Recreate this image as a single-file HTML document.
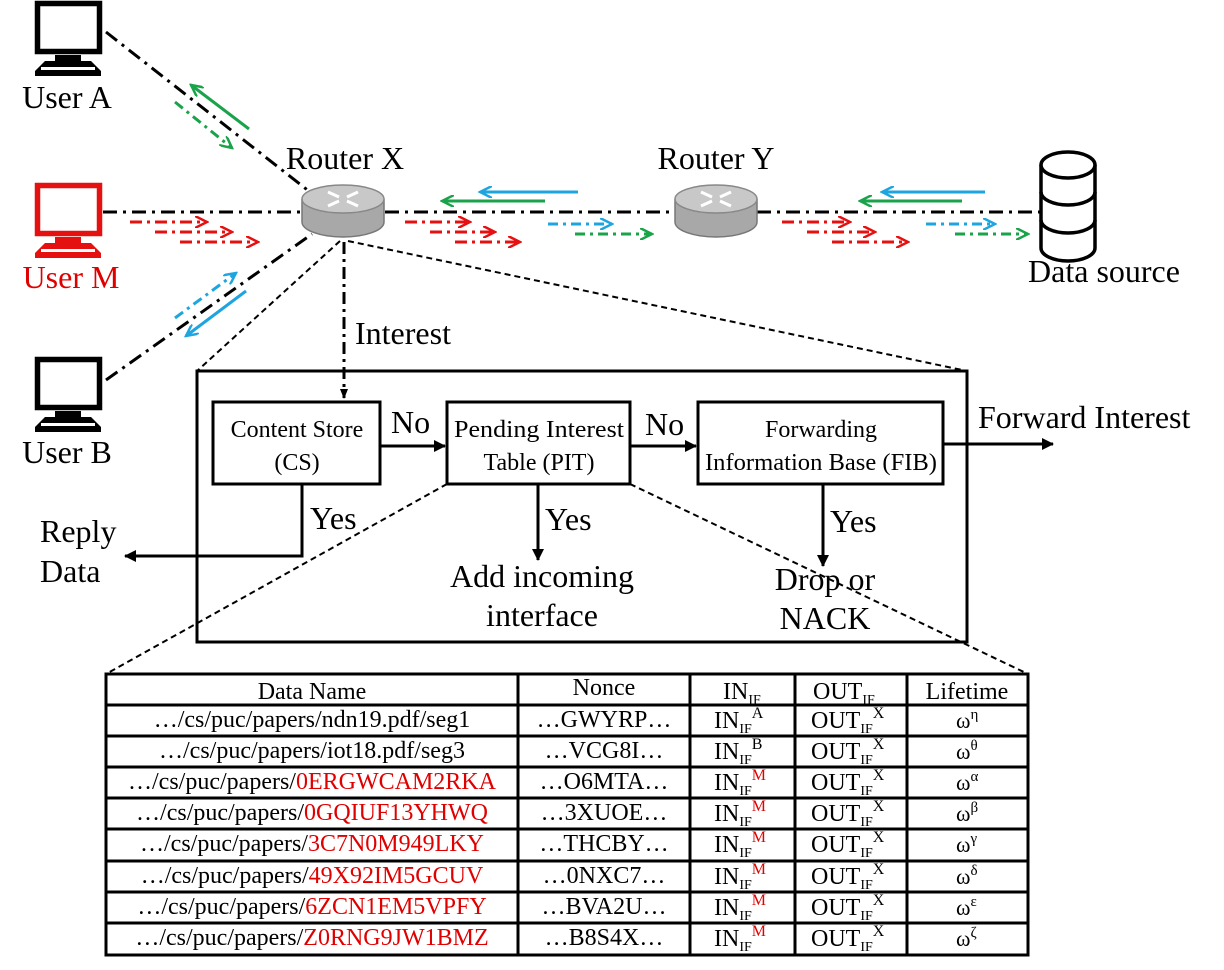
<!DOCTYPE html>
<html><head><meta charset="utf-8"><style>
html,body{margin:0;padding:0;background:#fff}
svg{display:block}
text{font-family:"Liberation Serif",serif;fill:#000}
.r{fill:#e00000}
</style></head><body>
<svg width="1224" height="970" viewBox="0 0 1224 970" xmlns="http://www.w3.org/2000/svg">
<defs>
<marker id="ab" markerWidth="10" markerHeight="10" refX="9" refY="5" orient="auto" markerUnits="userSpaceOnUse"><path d="M0,1 L10,5 L0,9 Z" fill="#000"/></marker>
<marker id="ab2" markerWidth="12" markerHeight="12" refX="11" refY="6" orient="auto" markerUnits="userSpaceOnUse"><path d="M0,0 L12,6 L0,12 Z" fill="#000"/></marker>
<marker id="ag" markerWidth="14" markerHeight="12" refX="12" refY="6" orient="auto" markerUnits="userSpaceOnUse"><path d="M0,0 L12,6 L0,12" fill="none" stroke="#1aa34a" stroke-width="2.5"/></marker>
<marker id="ar" markerWidth="14" markerHeight="12" refX="12" refY="6" orient="auto" markerUnits="userSpaceOnUse"><path d="M0,0 L12,6 L0,12" fill="none" stroke="#e51010" stroke-width="2.5"/></marker>
<marker id="au" markerWidth="14" markerHeight="12" refX="12" refY="6" orient="auto" markerUnits="userSpaceOnUse"><path d="M0,0 L12,6 L0,12" fill="none" stroke="#1ea5e0" stroke-width="2.5"/></marker>
<g id="pc">
<rect x="2.5" y="2.5" width="62" height="48" fill="#fff" stroke="currentColor" stroke-width="5.5"/>
<rect x="20" y="54" width="26" height="6" fill="currentColor"/>
<path d="M10,60 L56,60 L66,70 L66,75 L0,75 L0,70 Z" fill="currentColor"/>
<rect x="6" y="66" width="54" height="3" fill="#fff"/>
</g>
</defs>

<use href="#pc" x="35" y="1" color="#000"/>
<use href="#pc" x="35" y="183" color="#e51010"/>
<use href="#pc" x="35" y="357" color="#000"/>
<text x="67" y="108" font-size="32" text-anchor="middle">User A</text>
<text x="71" y="288" font-size="32" text-anchor="middle" class="r">User M</text>
<text x="67" y="463" font-size="32" text-anchor="middle">User B</text>

<g stroke="#000" stroke-width="3" stroke-dasharray="14,6,3,6" fill="none">
<line x1="106" y1="32" x2="310" y2="192"/>
<line x1="103" y1="212" x2="302" y2="212"/>
<line x1="106" y1="380" x2="312" y2="234"/>
<line x1="385" y1="212" x2="676" y2="212"/>
<line x1="757" y1="212" x2="1062" y2="212"/>
</g>

<g id="rt">
<path d="M302,199 L302,222 A41,15 0 0 0 384,222 L384,199" fill="#a8a8a8" stroke="#777" stroke-width="1.5"/>
<ellipse cx="343" cy="199" rx="41" ry="14" fill="#c8c8c8" stroke="#888" stroke-width="1.5"/>
<g stroke="#fff" stroke-width="3"><line x1="328" y1="192" x2="339" y2="197"/><line x1="358" y1="192" x2="347" y2="197"/><line x1="328" y1="206" x2="339" y2="201"/><line x1="358" y1="206" x2="347" y2="201"/></g>
</g>
<use href="#rt" x="373" y="0"/>
<text x="345" y="169" font-size="32" text-anchor="middle">Router X</text>
<text x="716" y="169" font-size="32" text-anchor="middle">Router Y</text>

<g fill="#fff" stroke="#000" stroke-width="3.5">
<path d="M1041,165 L1041,248 A27,13 0 0 0 1095,248 L1095,165"/>
<ellipse cx="1068" cy="165" rx="27" ry="13"/>
<path d="M1041,192 A27,13 0 0 0 1095,192" fill="none"/>
<path d="M1041,220 A27,13 0 0 0 1095,220" fill="none"/>
</g>
<text x="1104" y="282" font-size="32" text-anchor="middle">Data source</text>

<g stroke-width="3" fill="none">
<line x1="249" y1="129" x2="191" y2="85" stroke="#1aa34a" marker-end="url(#ag)"/>
<line x1="175" y1="102" x2="232" y2="148" stroke="#1aa34a" stroke-dasharray="10,5,3,5" marker-end="url(#ag)"/>
<line x1="130" y1="222" x2="207" y2="222" stroke="#e51010" stroke-dasharray="12,5,3,5" marker-end="url(#ar)"/>
<line x1="155" y1="232" x2="232" y2="232" stroke="#e51010" stroke-dasharray="12,5,3,5" marker-end="url(#ar)"/>
<line x1="180" y1="242" x2="258" y2="242" stroke="#e51010" stroke-dasharray="12,5,3,5" marker-end="url(#ar)"/>
<line x1="175" y1="318" x2="236" y2="273" stroke="#1ea5e0" stroke-dasharray="10,5,3,5" marker-end="url(#au)"/>
<line x1="246" y1="291" x2="186" y2="336" stroke="#1ea5e0" marker-end="url(#au)"/>

<line x1="578" y1="192" x2="480" y2="192" stroke="#1ea5e0" marker-end="url(#au)"/>
<line x1="545" y1="201" x2="442" y2="201" stroke="#1aa34a" marker-end="url(#ag)"/>
<line x1="405" y1="222" x2="470" y2="222" stroke="#e51010" stroke-dasharray="12,5,3,5" marker-end="url(#ar)"/>
<line x1="430" y1="232" x2="495" y2="232" stroke="#e51010" stroke-dasharray="12,5,3,5" marker-end="url(#ar)"/>
<line x1="455" y1="242" x2="520" y2="242" stroke="#e51010" stroke-dasharray="12,5,3,5" marker-end="url(#ar)"/>
<line x1="548" y1="224" x2="612" y2="224" stroke="#1ea5e0" stroke-dasharray="10,5,3,5" marker-end="url(#au)"/>
<line x1="575" y1="234" x2="652" y2="234" stroke="#1aa34a" stroke-dasharray="10,5,3,5" marker-end="url(#ag)"/>

<line x1="985" y1="192" x2="882" y2="192" stroke="#1ea5e0" marker-end="url(#au)"/>
<line x1="962" y1="201" x2="860" y2="201" stroke="#1aa34a" marker-end="url(#ag)"/>
<line x1="782" y1="222" x2="850" y2="222" stroke="#e51010" stroke-dasharray="12,5,3,5" marker-end="url(#ar)"/>
<line x1="807" y1="232" x2="875" y2="232" stroke="#e51010" stroke-dasharray="12,5,3,5" marker-end="url(#ar)"/>
<line x1="832" y1="242" x2="908" y2="242" stroke="#e51010" stroke-dasharray="12,5,3,5" marker-end="url(#ar)"/>
<line x1="926" y1="224" x2="995" y2="224" stroke="#1ea5e0" stroke-dasharray="10,5,3,5" marker-end="url(#au)"/>
<line x1="955" y1="234" x2="1028" y2="234" stroke="#1aa34a" stroke-dasharray="10,5,3,5" marker-end="url(#ag)"/>
</g>

<g stroke="#000" stroke-width="2" stroke-dasharray="6,4" fill="none">
<line x1="340" y1="241" x2="197" y2="371"/>
<line x1="348" y1="241" x2="967" y2="371"/>
<line x1="447" y1="484" x2="106" y2="674"/>
<line x1="630" y1="484" x2="1028" y2="674"/>
</g>
<line x1="344" y1="242" x2="344" y2="398" stroke="#000" stroke-width="3" stroke-dasharray="12,5,3,5" marker-end="url(#ab)"/>
<text x="355" y="344" font-size="32">Interest</text>

<rect x="197" y="371" width="770" height="271" fill="none" stroke="#000" stroke-width="3"/>
<g fill="#fff" stroke="#000" stroke-width="3">
<rect x="213" y="402" width="167" height="82"/>
<rect x="447" y="402" width="183" height="82"/>
<rect x="698" y="402" width="245" height="82"/>
</g>
<g font-size="24" text-anchor="middle">
<text x="297" y="437">Content Store</text><text x="297" y="470">(CS)</text>
<text x="539" y="437" textLength="170" lengthAdjust="spacingAndGlyphs">Pending Interest</text><text x="539" y="470">Table (PIT)</text>
<text x="821" y="437">Forwarding</text><text x="821" y="470" textLength="232" lengthAdjust="spacingAndGlyphs">Information Base (FIB)</text>
</g>
<g stroke="#000" stroke-width="3" fill="none">
<line x1="380" y1="446" x2="445" y2="446" marker-end="url(#ab2)"/>
<line x1="630" y1="446" x2="696" y2="446" marker-end="url(#ab2)"/>
<line x1="943" y1="444" x2="1053" y2="444" marker-end="url(#ab2)"/>
<polyline points="302,484 302,556 125,556" marker-end="url(#ab2)"/>
<line x1="538" y1="484" x2="538" y2="560" marker-end="url(#ab2)"/>
<line x1="823" y1="484" x2="823" y2="566" marker-end="url(#ab2)"/>
</g>
<g font-size="32">
<text x="391" y="433">No</text>
<text x="645" y="435">No</text>
<text x="978" y="428">Forward Interest</text>
<text x="310" y="529">Yes</text>
<text x="545" y="530">Yes</text>
<text x="830" y="532">Yes</text>
<text x="40" y="542">Reply</text>
<text x="40" y="582">Data</text>
<text x="542" y="587" text-anchor="middle">Add incoming</text>
<text x="542" y="626" text-anchor="middle">interface</text>
<text x="825" y="590" text-anchor="middle">Drop or</text>
<text x="825" y="629" text-anchor="middle">NACK</text>
</g>

<g stroke="#000" stroke-width="3" fill="none">
<rect x="106" y="674" width="922" height="281"/>
<line x1="518" y1="674" x2="518" y2="955"/>
<line x1="690" y1="674" x2="690" y2="955"/>
<line x1="795" y1="674" x2="795" y2="955"/>
<line x1="907" y1="674" x2="907" y2="955"/>
<line x1="106" y1="705" x2="1028" y2="705"/>
<line x1="106" y1="736" x2="1028" y2="736"/>
<line x1="106" y1="767" x2="1028" y2="767"/>
<line x1="106" y1="798" x2="1028" y2="798"/>
<line x1="106" y1="829" x2="1028" y2="829"/>
<line x1="106" y1="861" x2="1028" y2="861"/>
<line x1="106" y1="892" x2="1028" y2="892"/>
<line x1="106" y1="923" x2="1028" y2="923"/>
</g>
<g font-size="24" text-anchor="middle">
<text x="312" y="699">Data Name</text>
<text x="604" y="695">Nonce</text>
<text x="312" y="727">…/cs/puc/papers/ndn19.pdf/seg1</text>
<text x="312" y="758">…/cs/puc/papers/iot18.pdf/seg3</text>
<text x="312" y="789">…/cs/puc/papers/<tspan class="r">0ERGWCAM2RKA</tspan></text>
<text x="312" y="820">…/cs/puc/papers/<tspan class="r">0GQIUF13YHWQ</tspan></text>
<text x="312" y="851">…/cs/puc/papers/<tspan class="r">3C7N0M949LKY</tspan></text>
<text x="312" y="883">…/cs/puc/papers/<tspan class="r">49X92IM5GCUV</tspan></text>
<text x="312" y="914">…/cs/puc/papers/<tspan class="r">6ZCN1EM5VPFY</tspan></text>
<text x="312" y="945">…/cs/puc/papers/<tspan class="r">Z0RNG9JW1BMZ</tspan></text>

<text x="604" y="727">…GWYRP…</text>
<text x="604" y="758">…VCG8I…</text>
<text x="604" y="789">…O6MTA…</text>
<text x="604" y="820">…3XUOE…</text>
<text x="604" y="851">…THCBY…</text>
<text x="604" y="883">…0NXC7…</text>
<text x="604" y="914">…BVA2U…</text>
<text x="604" y="945">…B8S4X…</text>
<text x="967" y="699">Lifetime</text>
</g>
<g font-size="24">
<text x="723" y="699">IN<tspan font-size="14" dy="5">IF</tspan></text>
<text x="813" y="699">OUT<tspan font-size="14" dy="5">IF</tspan></text>
<text x="714" y="728">IN<tspan font-size="14" dy="5">IF</tspan><tspan font-size="16" dy="-15">A</tspan></text>
<text x="714" y="759">IN<tspan font-size="14" dy="5">IF</tspan><tspan font-size="16" dy="-15">B</tspan></text>
<text x="714" y="790">IN<tspan font-size="14" dy="5">IF</tspan><tspan font-size="16" dy="-15" class="r">M</tspan></text>
<text x="714" y="821">IN<tspan font-size="14" dy="5">IF</tspan><tspan font-size="16" dy="-15" class="r">M</tspan></text>
<text x="714" y="852">IN<tspan font-size="14" dy="5">IF</tspan><tspan font-size="16" dy="-15" class="r">M</tspan></text>
<text x="714" y="884">IN<tspan font-size="14" dy="5">IF</tspan><tspan font-size="16" dy="-15" class="r">M</tspan></text>
<text x="714" y="915">IN<tspan font-size="14" dy="5">IF</tspan><tspan font-size="16" dy="-15" class="r">M</tspan></text>
<text x="714" y="946">IN<tspan font-size="14" dy="5">IF</tspan><tspan font-size="16" dy="-15" class="r">M</tspan></text>
</g>
<g font-size="24">
<text x="811" y="728">OUT<tspan font-size="14" dy="5">IF</tspan><tspan font-size="16" dy="-15">X</tspan></text>
<text x="811" y="759">OUT<tspan font-size="14" dy="5">IF</tspan><tspan font-size="16" dy="-15">X</tspan></text>
<text x="811" y="790">OUT<tspan font-size="14" dy="5">IF</tspan><tspan font-size="16" dy="-15">X</tspan></text>
<text x="811" y="821">OUT<tspan font-size="14" dy="5">IF</tspan><tspan font-size="16" dy="-15">X</tspan></text>
<text x="811" y="852">OUT<tspan font-size="14" dy="5">IF</tspan><tspan font-size="16" dy="-15">X</tspan></text>
<text x="811" y="884">OUT<tspan font-size="14" dy="5">IF</tspan><tspan font-size="16" dy="-15">X</tspan></text>
<text x="811" y="915">OUT<tspan font-size="14" dy="5">IF</tspan><tspan font-size="16" dy="-15">X</tspan></text>
<text x="811" y="946">OUT<tspan font-size="14" dy="5">IF</tspan><tspan font-size="16" dy="-15">X</tspan></text>
</g>
<g font-size="22">
<text x="956" y="728">ω<tspan font-size="15" dy="-9">η</tspan></text>
<text x="956" y="759">ω<tspan font-size="15" dy="-9">θ</tspan></text>
<text x="956" y="790">ω<tspan font-size="15" dy="-9">α</tspan></text>
<text x="956" y="821">ω<tspan font-size="15" dy="-9">β</tspan></text>
<text x="956" y="852">ω<tspan font-size="15" dy="-9">γ</tspan></text>
<text x="956" y="884">ω<tspan font-size="15" dy="-9">δ</tspan></text>
<text x="956" y="915">ω<tspan font-size="15" dy="-9">ε</tspan></text>
<text x="956" y="946">ω<tspan font-size="15" dy="-9">ζ</tspan></text>
</g>
</svg>
</body></html>
